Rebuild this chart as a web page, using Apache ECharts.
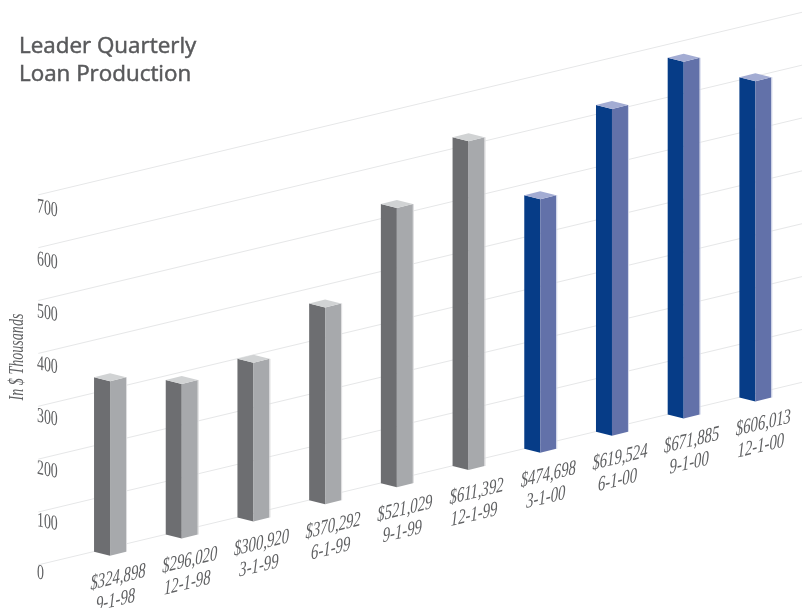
<!DOCTYPE html>
<html><head><meta charset="utf-8">
<style>html,body{margin:0;padding:0;background:#fff}#c{width:802px;height:608px}</style>
<script src="https://cdn.jsdelivr.net/npm/echarts@6/dist/echarts.min.js"></script>
</head><body><div id="c"></div>
<script>
const titleText = 'Leader Quarterly\nLoan Production';
const yAxisName = 'In $ Thousands';
const dates = ['9-1-98','12-1-98','3-1-99','6-1-99','9-1-99','12-1-99','3-1-00','6-1-00','9-1-00','12-1-00'];
const amountLabels = ['$324,898','$296,020','$300,920','$370,292','$521,029','$611,392','$474,698','$619,524','$671,885','$606,013'];
const barHeights = [330,292.5,300,372.5,528,622,480,618,675,606];
const palettes = [0,0,0,0,0,0,1,1,1,1];
const yTicks = [0,100,200,300,400,500,600,700];

const faces = [
  {left:'#6d6e71', right:'#a7a9ac', top:'#d1d3d4', edge:'#dcdcde'},
  {left:'#063c87', right:'#6271a9', top:'#a3acd3', edge:'#d3d8ea'}
];
const SLOPE = 0.239, X0 = 110, HW = 16, DY = 4;
const shear = p => [p[0], p[1] - SLOPE * (p[0] - X0)];
const serif = (size, italic) => (italic ? 'italic ' : '') + size + 'px "Liberation Serif"';
const TEXT = '#5f6062';

const chart = echarts.init(document.getElementById('c'), null, {renderer:'canvas'});
chart.setOption({
  animation:false,
  backgroundColor:'#fff',
  title:{left:14,top:27.5,text:titleText,textStyle:{fontFamily:'Open Sans',fontSize:22.4,fontWeight:400,color:'#58595b',lineHeight:28,textBorderColor:'#58595b',textBorderWidth:0.5}},
  grid:{left:38.33,right:0,top:177.7,bottom:60.3},
  xAxis:{type:'value',min:-1,max:9.65,show:false},
  yAxis:{type:'value',min:0,max:700,interval:100,show:false,splitLine:{show:false}},
  graphic:[{type:'text',x:17,y:357,rotation:Math.PI/2,scaleX:0.67,
    style:{text:yAxisName,font:serif(21,true),fill:TEXT,align:'center',verticalAlign:'middle'}}],
  series:[
    {type:'custom',coordinateSystem:'cartesian2d',silent:true,z:1,
     data:yTicks.map(v=>[v]),encode:{y:0,x:-1},
     renderItem(params,api){
       const v=api.value(0);
       const a=shear(api.coord([-1,v])), b=shear(api.coord([9.65,v]));
       return {type:'group',children:[
         {type:'line',shape:{x1:a[0],y1:a[1],x2:b[0],y2:b[1]},style:{stroke:'#e6e7e8',lineWidth:1}},
         {type:'text',x:37,y:a[1]+8+v/700*4,skewY:-0.2,scaleX:0.66,
          style:{text:String(v),font:serif(21,false),fill:TEXT,align:'left',verticalAlign:'middle'}}
       ]};
     }},
    {type:'custom',coordinateSystem:'cartesian2d',silent:true,z:2,
     data:barHeights.map((a,i)=>[i,a]),encode:{x:0,y:1},
     renderItem(params,api){
       const i=api.value(0), v=api.value(1), f=faces[palettes[i]];
       const c0=api.coord([i,0]);
       const b=shear(c0);
       const t=api.coord([i,v]);
       const x=b[0], by=b[1], ty=by-(c0[1]-t[1]);
       const poly=(pts,fill)=>({type:'polygon',shape:{points:pts},style:{fill}});
       const label=(s,dx,dy)=>({type:'text',x:x+dx,y:by+2*DY+dy,skewY:0.235,scaleX:0.7,
          style:{text:s,font:serif(21,true),fill:TEXT,align:'center',verticalAlign:'middle'}});
       return {type:'group',children:[
         poly([[x-HW,ty+DY],[x,ty+2*DY],[x,by+2*DY],[x-HW,by+DY]],f.left),
         poly([[x,ty+2*DY],[x+HW,ty+DY],[x+HW,by+DY],[x,by+2*DY]],f.right),
         poly([[x,ty],[x+HW,ty+DY],[x,ty+2*DY],[x-HW,ty+DY]],f.top),
         {type:'line',shape:{x1:x+HW+0.5,y1:ty+DY,x2:x+HW+0.5,y2:by+DY},style:{stroke:f.edge,lineWidth:1}},
         label(amountLabels[i],8,22),
         label(dates[i],5.5,45)
       ]};
     }}
  ]
});
</script></body></html>
